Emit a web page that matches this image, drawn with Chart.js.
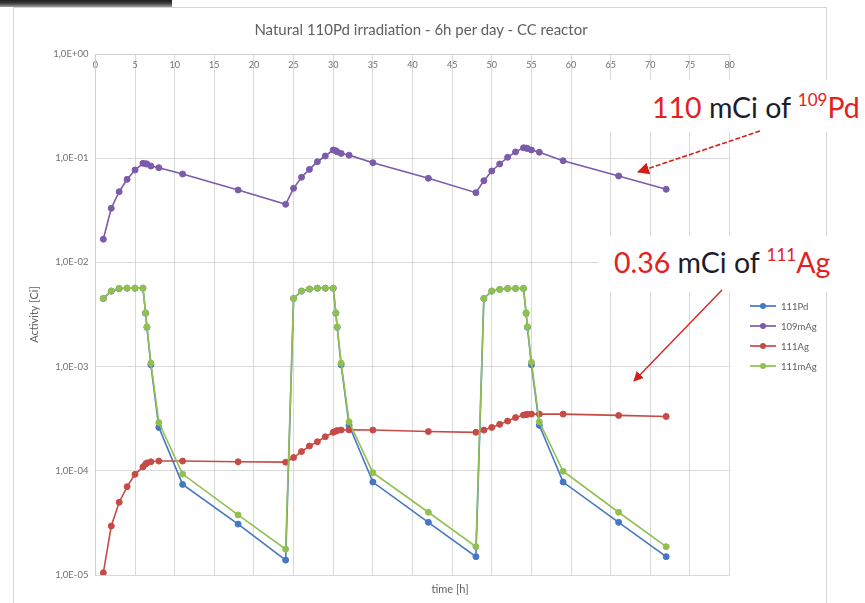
<!DOCTYPE html>
<html><head><meta charset="utf-8">
<script src="https://cdn.jsdelivr.net/npm/chart.js@4.4.1/dist/chart.umd.min.js"></script>
<style>
html,body{margin:0;padding:0;background:#fff;}
body{width:865px;height:603px;position:relative;overflow:hidden;font-family:Lato,"Open Sans",sans-serif;}
#topbar{position:absolute;left:0;top:0;width:172px;height:7px;background:linear-gradient(#1e1e1e 0,#3a3a3a 45%,#a0a0a0 100%);}
#frame{position:absolute;left:13px;top:7px;width:814px;height:620px;border:1px solid #d4d4d4;box-sizing:border-box;}
#c{position:absolute;left:0;top:0;}
#title{position:absolute;top:20px;left:0;width:842px;text-align:center;font-size:15px;color:#606060;}
#xtitle{position:absolute;top:582px;left:400px;width:100px;text-align:center;font-size:11px;color:#606060;}
.box{position:absolute;background:#fff;}
.ann{position:absolute;white-space:nowrap;font-size:28.5px;line-height:30px;color:#1c1c2c;}
.ann .r{color:#e3211d;}
.ann sup{font-size:17px;line-height:0;position:relative;top:-2px;vertical-align:super;}
#legend{position:absolute;left:750px;top:296px;font-size:9.5px;color:#606060;}
#legend .it{height:20px;display:flex;align-items:center;}
#legend svg{margin-right:5px;}
#arrows{position:absolute;left:0;top:0;pointer-events:none;}
</style></head>
<body>
<div id="topbar"></div>
<div id="frame"></div>
<canvas id="c" width="865" height="603"></canvas>
<div id="title">Natural 110Pd irradiation - 6h per day - CC reactor</div>
<div id="xtitle">time [h]</div>
<div class="box" style="left:600px;top:80px;width:265px;height:52px;"></div>
<div class="box" style="left:598px;top:236px;width:267px;height:56px;"></div>
<div class="ann" style="left:652px;top:92px;"><span class="r">110</span> mCi of <span class="r"><sup>109</sup>Pd</span></div>
<div class="ann" style="left:614px;top:247px;"><span class="r">0.36</span> mCi of <span class="r"><sup>111</sup>Ag</span></div>
<div id="legend"></div>
<svg id="arrows" width="865" height="603">
  <defs>
    <marker id="ah" markerWidth="10" markerHeight="10" refX="9" refY="5" orient="auto" markerUnits="userSpaceOnUse">
      <path d="M0,0 L10,5 L0,10 z" fill="#d61e18"/>
    </marker>
    <marker id="ah2" markerWidth="12" markerHeight="12" refX="11" refY="6" orient="auto" markerUnits="userSpaceOnUse">
      <path d="M0,0 L12,6 L0,12 z" fill="#d61e18"/>
    </marker>
  </defs>
  <line x1="760" y1="131" x2="638" y2="172" stroke="#d61e18" stroke-width="1.6" stroke-dasharray="5 2" marker-end="url(#ah2)"/>
  <line x1="722" y1="290" x2="634" y2="381" stroke="#d61e18" stroke-width="1.3" marker-end="url(#ah)"/>
</svg>
<script>
// ---- data ----
const times = [1,2,3,4,5,6,6.33,6.5,7,8,11,18,24,
  25,26,27,28,29,30,30.33,30.5,31,32,35,42,48,
  49,50,51,52,53,54,54.33,54.5,55,56,59,66,72];

const pd111 = [0.0045,0.0053,0.0056,0.00565,0.00565,0.00565,0.00325,0.00238,0.00104,0.000261,7.4e-5,3.08e-5,1.39e-5,
  0.0045,0.0053,0.00555,0.00565,0.00565,0.00565,0.00325,0.00238,0.00104,0.000273,7.8e-5,3.2e-5,1.5e-5,
  0.0045,0.0053,0.0055,0.00562,0.00562,0.00562,0.00325,0.00238,0.00104,0.000273,7.8e-5,3.2e-5,1.5e-5];

const ag109m = [0.0167,0.0331,0.0477,0.0627,0.0770,0.0893,0.0885,0.0879,0.0841,0.0811,0.0705,0.0495,0.0361,
  0.0514,0.0656,0.0781,0.0925,0.105,0.120,0.118,0.115,0.111,0.107,0.0905,0.0641,0.0467,
  0.0608,0.0754,0.0880,0.102,0.115,0.126,0.125,0.124,0.120,0.114,0.0946,0.0675,0.0503];

const ag111 = [1.05e-5,2.95e-5,4.99e-5,7.04e-5,9.25e-5,1.09e-4,1.16e-4,1.19e-4,1.22e-4,1.24e-4,1.24e-4,1.22e-4,1.21e-4,
  1.34e-4,1.53e-4,1.73e-4,1.90e-4,2.12e-4,2.34e-4,2.40e-4,2.43e-4,2.46e-4,2.47e-4,2.46e-4,2.38e-4,2.34e-4,
  2.46e-4,2.61e-4,2.79e-4,3.00e-4,3.24e-4,3.43e-4,3.46e-4,3.48e-4,3.50e-4,3.50e-4,3.50e-4,3.40e-4,3.32e-4];

const ag111m = [0.00452,0.00532,0.00564,0.00567,0.00567,0.00567,0.00329,0.00241,0.00108,0.00029,9.3e-5,3.77e-5,1.77e-5,
  0.00452,0.00532,0.00556,0.00567,0.00567,0.00567,0.00329,0.00241,0.00108,0.000295,9.6e-5,4.0e-5,1.87e-5,
  0.00452,0.00532,0.0055,0.00564,0.00564,0.00564,0.00329,0.00241,0.0011,0.000295,9.9e-5,4.0e-5,1.87e-5];

const seriesNames = ['111Pd','109mAg','111Ag','111mAg'];
const seriesColors = ['#4577c4','#7b5baa','#c84a45','#92c050'];
const yTickValues = [1e-5,1e-4,1e-3,1e-2,1e-1,1];
const yTickLabels = ['1,0E-05','1,0E-04','1,0E-03','1,0E-02','1,0E-01','1,0E+00'];
const xMin = 0, xMax = 80, xStep = 5;

// ---- chart ----
const seriesValues = [pd111, ag109m, ag111, ag111m];
const drawOrder = [4,3,2,1];
const datasets = seriesValues.map((vals,i)=>({
  label: seriesNames[i],
  data: times.map((t,k)=>({x:t,y:vals[k]})),
  borderColor: seriesColors[i],
  backgroundColor: seriesColors[i],
  pointBackgroundColor: seriesColors[i],
  pointBorderColor: seriesColors[i],
  borderWidth: 1.6,
  pointRadius: 3,
  pointBorderWidth: 1,
  tension: 0,
  order: drawOrder[i]
}));

Chart.defaults.font.family = 'Lato, "Open Sans", sans-serif';
new Chart(document.getElementById('c'), {
  type: 'line',
  data: { datasets },
  options: {
    responsive: false,
    devicePixelRatio: 1,
    animation: false,
    layout: { padding: { left: 24, right: 135.4, top: 54, bottom: 28 } },
    plugins: { legend: { display: false }, tooltip: { enabled: false }, title: { display: false } },
    scales: {
      x: {
        type: 'linear',
        position: { y: 1 },
        min: xMin, max: xMax,
        ticks: { stepSize: xStep, color: '#707070', font: { size: 9 }, padding: 6, maxRotation: 0 },
        grid: { color: '#d9d9d9', drawTicks: false, lineWidth: 1 },
        border: { color: '#d0d0d0' }
      },
      y: {
        type: 'logarithmic',
        position: 'left',
        min: 1e-5, max: 1,
        afterBuildTicks: (s) => { s.ticks = yTickValues.map(v => ({ value: v })); },
        afterFit: (s) => { s.width = 71.4; },
        ticks: {
          color: '#707070', font: { size: 9.5 }, padding: 7,
          callback: (v) => { const i = yTickValues.findIndex(t => Math.abs(Math.log10(t) - Math.log10(v)) < 1e-6); return i >= 0 ? yTickLabels[i] : ''; }
        },
        grid: { color: '#d9d9d9', drawTicks: false },
        border: { color: '#d0d0d0' },
        title: { display: true, text: 'Activity [Ci]', color: '#606060', font: { size: 11 }, padding: { top: 4, bottom: 0 } }
      }
    }
  }
});

// ---- legend ----
const lg = document.getElementById('legend');
seriesNames.forEach((n,i)=>{
  const d = document.createElement('div'); d.className='it';
  d.innerHTML = `<svg width="26" height="8"><line x1="0" y1="4" x2="26" y2="4" stroke="${seriesColors[i]}" stroke-width="1.7"/><circle cx="13" cy="4" r="3" fill="${seriesColors[i]}"/></svg><span>${n}</span>`;
  lg.appendChild(d);
});
</script>
</body></html>
